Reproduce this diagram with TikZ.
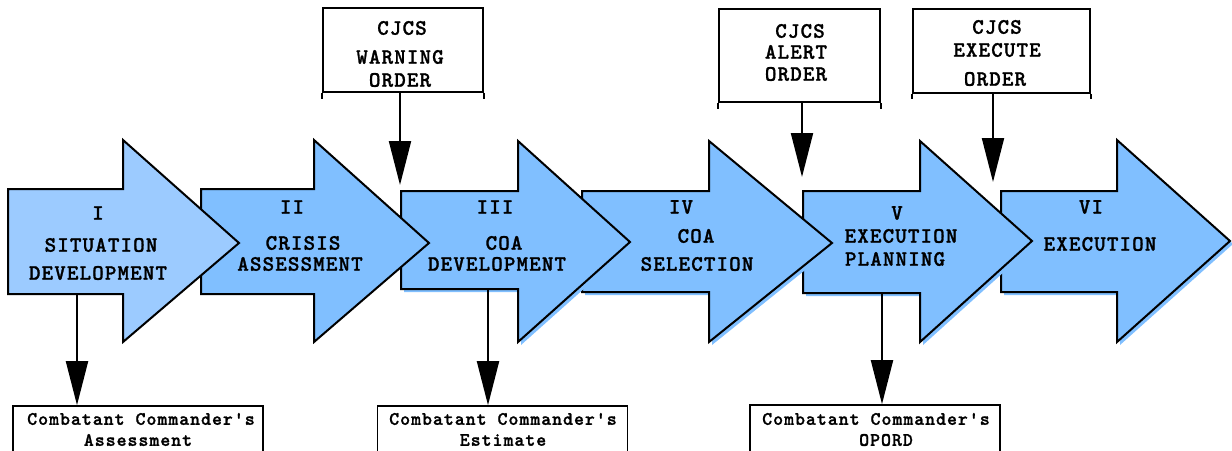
\documentclass[tikz,border=0pt]{standalone}
\usepackage{fontspec}
\newfontfamily\typeface{lmmonolt10-bold.otf}[LetterSpace=5,FakeBold=1.2]
\usetikzlibrary{arrows.meta}
\definecolor{phaseone}{HTML}{9CCBFF}
\definecolor{phase}{HTML}{80BFFF}
\begin{document}
\begin{tikzpicture}[x=1pt,y=-1pt,
  stage/.style={draw=black,line width=2pt,line join=miter,fill=phase},
  shade/.style={fill=phase,draw=none},
  lbl/.style={font=\typeface\fontsize{22}{24}\selectfont,inner sep=0pt},
  note/.style={font=\typeface\fontsize{19}{21}\selectfont,inner sep=0pt},
  orderbox/.style={draw,line width=1.6pt,inner sep=0pt},
  docbox/.style={draw,line width=1.6pt,inner sep=0pt,minimum width=250pt,minimum height=70pt},
  feed/.style={line width=2pt,-{Triangle[width=22pt,length=44pt]}}]
\useasboundingbox (0,0) rectangle (1232,450);
\clip (0,0) rectangle (1232,450);

% ---- phase arrows, drawn from last to first so each head lies on the next body
% VI
\path[shade,shift={(3,3)}] (1001,191) -- (1117,191) -- (1117,140) -- (1230,241) -- (1117,342) -- (1117,292) -- (1001,292) -- cycle;
\path[stage] (1001,191) -- (1117,191) -- (1117,140) -- (1230,241) -- (1117,342) -- (1117,292) -- (1001,292) -- cycle;
% V
\path[shade,shift={(3,3)}] (803,191) -- (920,191) -- (920,141) -- (1032,241) -- (920,342) -- (920,293) -- (803,293) -- cycle;
\path[stage] (803,191) -- (920,191) -- (920,141) -- (1032,241) -- (920,342) -- (920,293) -- (803,293) -- cycle;
% IV
\path[shade,shift={(3,3)}] (582,191) -- (709,191) -- (709,141) -- (832,243) -- (709,342) -- (709,292) -- (582,292) -- cycle;
\path[stage] (582,191) -- (709,191) -- (709,141) -- (832,243) -- (709,342) -- (709,292) -- (582,292) -- cycle;
% III
\path[shade,shift={(3,3)}] (401,191) -- (518,191) -- (518,141) -- (630,242) -- (518,342) -- (518,289) -- (401,289) -- cycle;
\path[stage] (401,191) -- (518,191) -- (518,141) -- (630,242) -- (518,342) -- (518,289) -- (401,289) -- cycle;
% II
\path[stage] (201,189) -- (314,189) -- (314,140) -- (429,243) -- (314,342) -- (314,294) -- (201,294) -- cycle;
% I
\path[stage,fill=phaseone] (8,189) -- (123,189) -- (123,140) -- (239,243) -- (123,342) -- (123,294) -- (8,294) -- cycle;

% ---- phase labels
\node[lbl] (p1n) at (98,213) {I};
\node[lbl] (p1a) at (101,245) {SITUATION};
\node[lbl] (p1b) at (98,273) {DEVELOPMENT};
\node[lbl] (p2n) at (292,207) {II};
\node[lbl] (p2a) at (303,243) {CRISIS};
\node[lbl] (p2b) at (300,264) {ASSESSMENT};
\node[lbl] (p3n) at (495,207) {III};
\node[lbl] (p3a) at (504,243) {COA};
\node[lbl] (p3b) at (497,264) {DEVELOPMENT};
\node[lbl] (p4n) at (681,207) {IV};
\node[lbl] (p4a) at (696,236) {COA};
\node[lbl] (p4b) at (697,264) {SELECTION};
\node[lbl] (p5n) at (897,213) {V};
\node[lbl] (p5a) at (901,236) {EXECUTION};
\node[lbl] (p5b) at (895,259) {PLANNING};
\node[lbl] (p6n) at (1091,207) {VI};
\node[lbl] (p6a) at (1100,244) {EXECUTION};

% ---- CJCS orders
\node[orderbox,minimum width=160pt,minimum height=84pt] (warn) at (403,50) {};
\node[lbl] (warn1) at (402,28) {CJCS};
\node[lbl] (warn2) at (400,57) {WARNING};
\node[lbl] (warn3) at (400,80) {ORDER};
\node[orderbox,minimum width=161pt,minimum height=93pt] (alert) at (799.5,55.5) {};
\node[lbl] (alert1) at (800,31) {CJCS};
\node[lbl] (alert2) at (796,52) {ALERT};
\node[lbl] (alert3) at (796,74) {ORDER};
\node[orderbox,minimum width=177pt,minimum height=84pt] (exec) at (1001.5,51) {};
\node[lbl] (exec1) at (997,27) {CJCS};
\node[lbl] (exec2) at (997,50) {EXECUTE};
\node[lbl] (exec3) at (995,79) {ORDER};

% short overhangs below the order boxes
\draw[line width=1.6pt] (warn.south west) -- ++(0,6) (warn.south east) -- ++(0,6);
\draw[line width=1.6pt] (alert.south west) -- ++(0,6) (alert.south east) -- ++(0,6);
\draw[line width=1.6pt] (exec.south west) -- ++(0,5) (exec.south east) -- ++(0,5);

\coordinate (in3) at (400,185);
\coordinate (in5) at (802,177);
\coordinate (in6) at (993,182);
\draw[feed] (warn.south -| in3) -- (in3);
\draw[feed] (alert.south -| in5) -- (in5);
\draw[feed] (exec.south -| in6) -- (in6);

% ---- commander products
\node[docbox] (assess) at (138,441) {};
\node[note] (assess1) at (141,419) {Combatant Commander's};
\node[note] (assess2) at (138,440) {Assessment};
\node[docbox] (estim) at (502.5,441) {};
\node[note] (estim1) at (503,419) {Combatant Commander's};
\node[note] (estim2) at (503,440) {Estimate};
\node[docbox] (opord) at (875,440) {};
\node[note] (opord1) at (876,419) {Combatant Commander's};
\node[note] (opord2) at (886,440) {OPORD};

\coordinate (out1) at (77,294);
\coordinate (out3) at (488,289);
\coordinate (out5) at (882,293);
\draw[feed] (out1) -- (out1 |- assess.north);
\draw[feed] (out3) -- (out3 |- estim.north);
\draw[feed] (out5) -- (out5 |- opord.north);
\end{tikzpicture}
\end{document}
